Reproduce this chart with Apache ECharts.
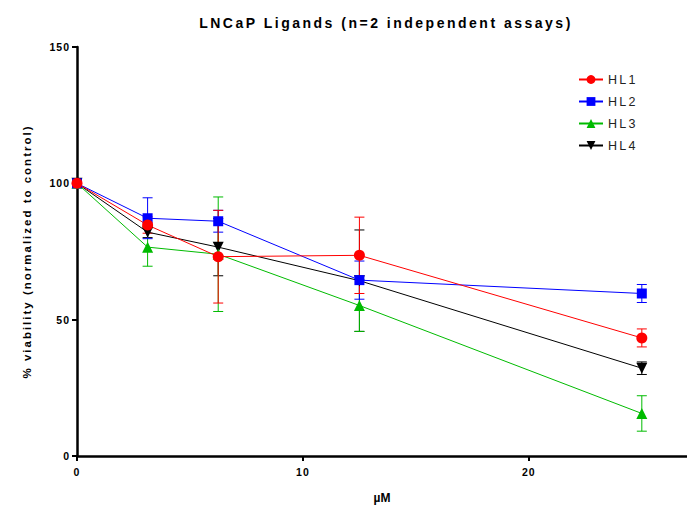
<!DOCTYPE html>
<html><head><meta charset="utf-8">
<script src="https://cdn.jsdelivr.net/npm/echarts@6/dist/echarts.min.js"></script>
<style>html,body{margin:0;padding:0;background:#fff}#c{width:687px;height:509px}</style>
</head><body><div id="c"></div>
<script>
const doses = [0, 3.125, 6.25, 12.5, 25];
const names = ['HL1', 'HL2', 'HL3', 'HL4'];
const hl1 = [100, 84.7, 73.1, 73.6, 43.3];
const hl1Err = [0, 3, 17, 14, 3.3];
const hl2 = [100, 87.2, 86.1, 64.5, 59.6];
const hl2Err = [0, 7.5, 4, 7, 3.3];
const hl3 = [100, 76.6, 74, 55.2, 15.6];
const hl3Err = [0, 7, 21, 9.5, 6.5];
const hl4 = [100, 82.1, 76.6, 64.3, 32.2];
const hl4Err = [0, 2, 10.5, 18.6, 2.3];
const xTicks = [0, 10, 20];
const yTicks = [0, 50, 100, 150];

const colors = ['#ff0000', '#0000ff', '#00bb00', '#000000'];
const symbols = ['circle', 'rect', 'triangle', 'triangle'];
const rotations = [0, 0, 0, 180];
const sizes = [11, 10, 11, 11];
const vals = [hl1, hl2, hl3, hl4];
const errs = [hl1Err, hl2Err, hl3Err, hl4Err];

const series = [];
for (let i = 3; i >= 0; i--) {
  const errData = doses.map((d, j) => [d, vals[i][j] - errs[i][j], vals[i][j] + errs[i][j]]).filter((r, j) => errs[i][j] > 0);
  series.push({
    type: 'custom', name: names[i] + ' err', silent: true, z: 3,
    data: errData,
    renderItem: (params, api) => {
      const lo = api.coord([api.value(0), api.value(1)]);
      const hi = api.coord([api.value(0), api.value(2)]);
      const w = 5;
      const st = { stroke: colors[i], lineWidth: 1 };
      return { type: 'group', children: [
        { type: 'line', shape: { x1: lo[0], y1: lo[1], x2: hi[0], y2: hi[1] }, style: st },
        { type: 'line', shape: { x1: lo[0] - w, y1: lo[1], x2: lo[0] + w, y2: lo[1] }, style: st },
        { type: 'line', shape: { x1: hi[0] - w, y1: hi[1], x2: hi[0] + w, y2: hi[1] }, style: st }
      ]};
    }
  });
  series.push({
    type: 'line', name: names[i], z: 4,
    data: doses.map((d, j) => [d, vals[i][j]]),
    symbol: symbols[i], symbolSize: sizes[i], symbolRotate: rotations[i], showAllSymbol: true,
    lineStyle: { color: colors[i], width: 1 }, itemStyle: { color: colors[i] }
  });
}

const chart = echarts.init(document.getElementById('c'), null, { renderer: 'svg' });
chart.setOption({
  animation: false,
  title: {
    text: 'LNCaP Ligands (n=2 independent assays)', left: 381, top: 11, textAlign: 'center',
    textStyle: { fontFamily: 'Liberation Sans', fontSize: 14, fontWeight: 'bold', color: '#000' }
  },
  legend: {
    data: names, orient: 'vertical', left: 573, top: 68, itemWidth: 24, itemHeight: 11, itemGap: 9,
    textStyle: { fontFamily: 'Liberation Sans', fontSize: 12.5, color: '#222' }
  },
  grid: { left: 77, right: 0, top: 47, bottom: 50, containLabel: false },
  xAxis: {
    type: 'value', min: 0, max: 27, interval: 10,
    name: 'µM', nameLocation: 'middle', nameGap: 36,
    nameTextStyle: { fontFamily: 'Liberation Sans', fontSize: 12, fontWeight: 'bold', color: '#000' },
    axisLine: { lineStyle: { color: '#000', width: 2.5 } },
    axisTick: { show: true, length: 5, lineStyle: { color: '#000', width: 2 }, customValues: xTicks },
    axisLabel: { fontFamily: 'Liberation Sans', fontSize: 10.5, fontWeight: 'bold', color: '#000', margin: 10, customValues: xTicks },
    splitLine: { show: false }
  },
  yAxis: {
    type: 'value', min: 0, max: 150, interval: 50,
    name: '% viability (normalized to control)', nameLocation: 'middle', nameGap: 44,
    nameTextStyle: { fontFamily: 'Liberation Sans', fontSize: 11.5, fontWeight: 'bold', color: '#000' },
    axisLine: { show: true, lineStyle: { color: '#000', width: 2.5 } },
    axisTick: { show: true, length: 5, lineStyle: { color: '#000', width: 2 }, customValues: yTicks },
    axisLabel: { fontFamily: 'Liberation Sans', fontSize: 10.5, fontWeight: 'bold', color: '#000', margin: 7, customValues: yTicks },
    splitLine: { show: false }
  },
  series: series
});

function spacing() {
  document.querySelectorAll('#c text').forEach(t => {
    const s = t.textContent;
    let ls = 1;
    if (s.indexOf('LNCaP') === 0) ls = 2.5;
    else if (s.indexOf('%') === 0) ls = 2;
    else if (/^HL/.test(s)) ls = 2.2;
    else if (s === 'µM') ls = 0;
    t.style.letterSpacing = ls + 'px';
  });
}
chart.on('finished', spacing);
spacing();
</script></body></html>
